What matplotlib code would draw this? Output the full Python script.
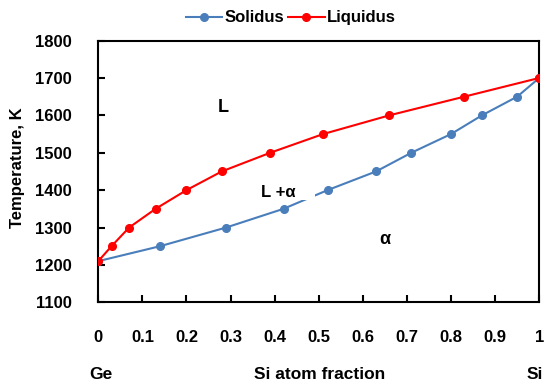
import matplotlib
matplotlib.use("Agg")
import matplotlib.pyplot as plt

solidus_x = [0, 0.14, 0.29, 0.42, 0.52, 0.63, 0.71, 0.80, 0.87, 0.95, 1.0]
solidus_t = [1210, 1250, 1300, 1350, 1400, 1450, 1500, 1550, 1600, 1650, 1700]
liquidus_x = [0, 0.03, 0.07, 0.13, 0.20, 0.28, 0.39, 0.51, 0.66, 0.83, 1.0]
liquidus_t = [1210, 1250, 1300, 1350, 1400, 1450, 1500, 1550, 1600, 1650, 1700]
x_ticks = [0, 0.1, 0.2, 0.3, 0.4, 0.5, 0.6, 0.7, 0.8, 0.9, 1]
x_tick_labels = ["0", "0.1", "0.2", "0.3", "0.4", "0.5", "0.6", "0.7", "0.8", "0.9", "1"]
y_ticks = [1100, 1200, 1300, 1400, 1500, 1600, 1700, 1800]

plt.rcParams['font.family'] = ['Liberation Sans', 'DejaVu Sans']
plt.rcParams['font.weight'] = 'bold'

fig = plt.figure(figsize=(5.5, 3.9), dpi=100)
ax = fig.add_axes([0.1787, 0.2249, 0.8018, 0.6711])

blue = '#4a7ebb'
red = '#ff0000'
ax.plot(solidus_x, solidus_t, '-o', color=blue, lw=1.5, ms=5.5, label='Solidus', zorder=3)
ax.plot(liquidus_x, liquidus_t, '-o', color=red, lw=1.5, ms=5.5, label='Liquidus', zorder=4)

ax.set_xlim(0, 1)
ax.set_ylim(1100, 1800)
ax.set_xticks(x_ticks)
ax.set_xticklabels(x_tick_labels)
ax.set_yticks(y_ticks)
ax.tick_params(direction='in', length=5, width=1.5, labelsize=12, colors='black')
ax.tick_params(axis='x', pad=20)
ax.tick_params(axis='y', pad=19)
for s in ax.spines.values():
    s.set_linewidth(1.5)

ax.set_ylabel('Temperature, K', fontsize=12, fontweight='bold')
ax.yaxis.set_label_coords(-0.166, 0.513)
ax.set_xlabel('Si atom fraction', fontsize=12.5, fontweight='bold')
ax.xaxis.set_label_coords(0.503, -0.247)

ax.text(0.007, -0.247, 'Ge', transform=ax.transAxes, ha='center', va='top', fontsize=12.5, fontweight='bold')
ax.text(0.99, -0.247, 'Si', transform=ax.transAxes, ha='center', va='top', fontsize=12.5, fontweight='bold')

ax.text(0.283, 1622, 'L', ha='center', va='center', fontsize=13, fontweight='bold')
ax.text(0.37, 1394, 'L +α    ', ha='left', va='center', fontsize=12, fontweight='bold', zorder=5,
        bbox=dict(facecolor='white', edgecolor='none', pad=0))
ax.text(0.65, 1267, 'α', ha='center', va='center', fontsize=13, fontweight='bold')

leg = fig.legend(*ax.get_legend_handles_labels(), loc='center', bbox_to_anchor=(0.529, 0.954), ncol=2,
                 frameon=False, fontsize=12, handlelength=2.17, handletextpad=0.15,
                 columnspacing=0.25, borderpad=0)

fig.savefig('out.png', dpi=100)
